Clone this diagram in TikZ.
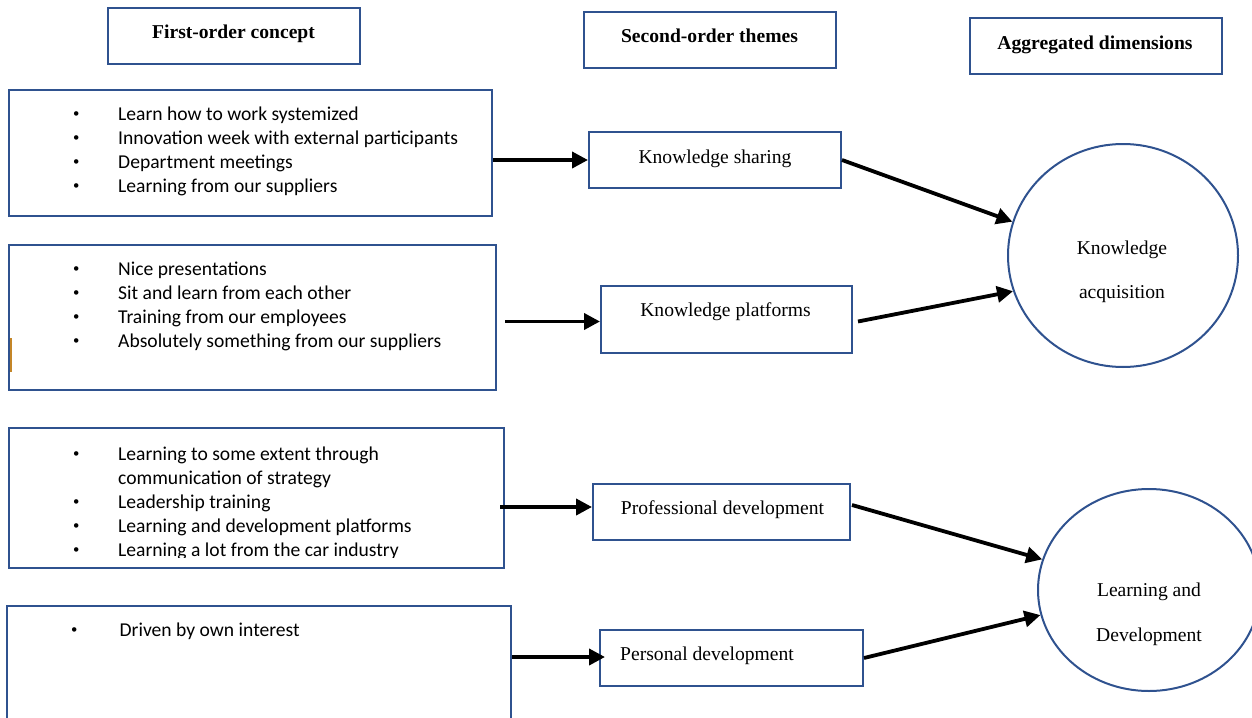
\documentclass[tikz,border=0pt]{standalone}
\usepackage{fontspec}
\setmainfont{Liberation Serif}
\newfontfamily\calibri{Carlito}
\usetikzlibrary{arrows.meta,shapes.geometric,calc}
\definecolor{frameblue}{RGB}{47,82,143}
\definecolor{cursormark}{RGB}{196,134,40}
% small bullet hanging in a fixed-width column
\newcommand\blt[1][42pt]{\makebox[#1][l]{\makebox[0pt]{\raisebox{2.5pt}{\scalebox{0.65}{\textbullet}}}}}

\begin{document}
\begin{tikzpicture}[x=1pt,y=-1pt,
  boxframe/.style={draw=frameblue,line width=2pt,rectangle,inner sep=0pt},
  dimcircle/.style={draw=frameblue,line width=2pt,ellipse,inner sep=0pt},
  headtext/.style={font=\fontsize{19.6}{24}\selectfont\bfseries,inner sep=0pt,anchor=base},
  themetext/.style={font=\fontsize{19.6}{24}\selectfont,inner sep=0pt,anchor=base},
  itemlist/.style={font=\calibri\fontsize{19.6}{24}\selectfont,inner sep=0pt,anchor=north west},
  link/.style={line width=3.8pt,-{Triangle[length=16pt,width=16pt]}}]

\useasboundingbox (0,0) rectangle (1252,717);
\clip (0,0) rectangle (1252,717);

% column headings
\node[boxframe,minimum width=252pt,minimum height=56pt] (h1) at (234,36) {};
\node[headtext] (h1t) at (233.5,39) {First-order concept};
\node[boxframe,minimum width=252pt,minimum height=56pt] (h2) at (710,40) {};
\node[headtext] (h2t) at (709.5,43) {Second-order themes};
\node[boxframe,minimum width=252pt,minimum height=56pt] (h3) at (1096,46) {};
\node[headtext] (h3t) at (1095,49) {Aggregated dimensions};

% first-order concepts
\node[boxframe,minimum width=483pt,minimum height=126pt] (c1) at (250.5,153) {};
\node[itemlist] (i1) at (76,103.2) {\begin{tabular}{@{}l@{}}
\blt Learn how to work systemized\\
\blt Innovation week with external participants\\
\blt Department meetings\\
\blt Learning from our suppliers
\end{tabular}};

\node[boxframe,minimum width=487pt,minimum height=145pt] (c2) at (252.5,317.5) {};
\node[itemlist] (i2) at (76,258.2) {\begin{tabular}{@{}l@{}}
\blt Nice presentations\\
\blt Sit and learn from each other\\
\blt Training from our employees\\
\blt Absolutely something from our suppliers
\end{tabular}};
\draw[cursormark,line width=1.5pt] (11,338) -- (11,372);

\node[boxframe,minimum width=495pt,minimum height=140pt] (c3) at (256.5,498) {};
\begin{scope}
  \clip (0,420) rectangle (520,557.5);
  \node[itemlist] (i3) at (76,443.2) {\begin{tabular}{@{}l@{}}
  \blt Learning to some extent through\\
  \hspace*{42pt}communication of strategy\\
  \blt Leadership training\\
  \blt Learning and development platforms\\
  \blt Learning a lot from the car industry
  \end{tabular}};
\end{scope}

\node[boxframe,minimum width=504pt,minimum height=120pt] (c4) at (259,666) {};
\node[itemlist] (i4) at (74,619.2) {\begin{tabular}{@{}l@{}}
\blt[41pt] Driven by own interest
\end{tabular}};

% second-order themes
\node[boxframe,minimum width=252pt,minimum height=56pt] (t1) at (715,160) {};
\node[themetext] (t1t) at (715,163) {Knowledge sharing};
\node[boxframe,minimum width=251pt,minimum height=67pt] (t2) at (726.5,319.5) {};
\node[themetext] (t2t) at (725.5,316) {Knowledge platforms};
\node[boxframe,minimum width=257pt,minimum height=56pt] (t3) at (721.5,512) {};
\node[themetext] (t3t) at (722.5,514) {Professional development};
\node[boxframe,minimum width=263pt,minimum height=56pt] (t4) at (731.5,658) {};
\node[themetext,anchor=base west] (t4t) at (620,660) {Personal development};

% aggregated dimensions
\node[dimcircle,minimum width=230pt,minimum height=223pt] (k1) at (1123,255.5) {};
\node[themetext] (k1a) at (1122,254) {Knowledge};
\node[themetext] (k1b) at (1122,298) {acquisition};
\node[dimcircle,minimum width=222pt,minimum height=202pt] (k2) at (1149,590) {};
\node[themetext] (k2a) at (1149,596) {Learning and};
\node[themetext] (k2b) at (1149,641) {Development};

% concepts to themes
\draw[link] (t1.west -| c1.east) -- (t1.west);
\draw[link] ($(t2.west -| c2.east)+(8,2)$) -- ($(t2.west)+(0,2)$);
\draw[link] ($(t3.west -| c3.east)+(-5,-5)$) -- ($(t3.west)+(0,-5)$);
\draw[link] ($(t4.west -| c4.east)+(0,-1)$) -- ($(t4.west)+(6,-1)$);

% themes to dimensions
\draw[link] (t1.east) -- (k1.163);
\draw[link] ($(t2.east)+(5,2)$) -- (k1.198);
\draw[link] ($(t3.east)+(1,-7)$) -- (k2.164);
\draw[link] (t4.east) -- (k2.193);
\end{tikzpicture}
\end{document}
